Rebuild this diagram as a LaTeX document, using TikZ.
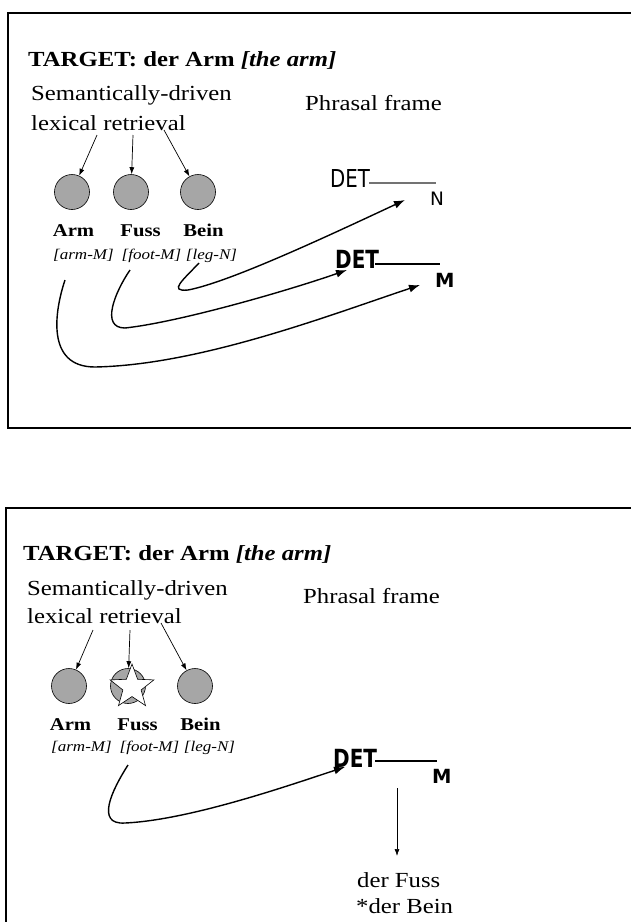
\documentclass[tikz,border=0pt]{standalone}
\usepackage{fontspec}
\setmainfont{Liberation Serif}[FakeStretch=1.15]
\newfontfamily\handfont{DejaVu Sans}[FakeStretch=0.8]
\newfontfamily\handwide{DejaVu Sans}
\usetikzlibrary{shapes.geometric,arrows.meta}

\tikzset{
  lbl/.style={inner sep=0, anchor=base west, font=\fontsize{21.5}{25}\selectfont},
  ttl/.style={lbl, font=\fontsize{21.5}{25}\selectfont\bfseries},
  word/.style={inner sep=0, anchor=base, font=\fontsize{18}{20}\selectfont\bfseries},
  gloss/.style={inner sep=0, anchor=base, font=\fontsize{14.8}{18}\selectfont\itshape},
  dot/.style={circle, draw=black, line width=0.6pt, fill=black!35, minimum size=35, inner sep=0},
  retr/.style={color=black, line width=0.7pt, >={Latex[length=7pt,width=5pt]}},
  link/.style={color=black, line width=1.4pt, >={Latex[length=11pt,width=8pt]}},
  slot/.style={inner sep=0, anchor=base west, font=\handfont\fontsize{24.7}{28}\selectfont},
  slotb/.style={slot, font=\handfont\bfseries\fontsize{25}{28}\selectfont},
  tag/.style={inner sep=0, anchor=base west, font=\handwide\fontsize{18.5}{20}\selectfont},
  tagb/.style={tag, font=\handwide\bfseries\fontsize{19.5}{22}\selectfont},
}

\begin{document}
\begin{tikzpicture}[x=1pt, y=-1pt]
\useasboundingbox (0,0) rectangle (630,922);
\draw[line width=2.4pt] (8,13) rectangle (660,428);
\node[ttl] (titleA) at (28,66) {TARGET: der Arm \textit{[the arm]}};
\node[lbl] (semA) at (31,100) {Semantically-driven};
\node[lbl] (lexA) at (31,130) {lexical retrieval};
\node[lbl] (frameA) at (305,110) {Phrasal frame};
\node[dot] (armA) at (72,192) {};
\node[dot] (fussA) at (131,192) {};
\node[dot] (beinA) at (198,192) {};
\coordinate (r1A) at (97,135);
\coordinate (r2A) at (133,135);
\coordinate (r3A) at (164,130);
\draw[retr, ->] (r1A) -- (armA);
\draw[retr, ->] (r2A) -- (fussA);
\draw[retr, ->] (r3A) -- (beinA);
\node[word] (warmA) at (73.5,236) {Arm};
\node[word] (wfussA) at (140.5,236) {Fuss};
\node[word] (wbeinA) at (203.5,236) {Bein};
\node[gloss] (garmA) at (83.5,259) {[arm-M]};
\node[gloss] (gfussA) at (151.5,259) {[foot-M]};
\node[gloss] (gbeinA) at (211.5,259) {[leg-N]};
\node[slot] (detn) at (330,187) {DET};
\draw[color=black!55, line width=1.2pt] (369,183) -- (436,183);
\node[tag] (slotn) at (430,205) {N};
\node[slotb] (detm) at (335,268) {DET};
\draw[color=black, line width=2.2pt] (375,264) -- (440,264);
\node[tagb] (slotm) at (435,287) {M};
\coordinate (c1A) at (199,263);
\coordinate (c2A) at (130,270);
\coordinate (c3A) at (65,280);
\coordinate (e1A) at (405,200);
\coordinate (e2A) at (347,270);
\coordinate (e3A) at (420,285);
\draw[link, ->] (c1A) .. controls (183,280) and (168,292) .. (188,290)
  .. controls (230,282) and (330,235) .. (e1A);
\draw[link, ->] (c2A) .. controls (115,292) and (100,328) .. (125,328)
  .. controls (180,322) and (290,290) .. (e2A);
\draw[link, ->] (c3A) .. controls (55,310) and (45,367) .. (95,367)
  .. controls (200,365) and (330,315) .. (e3A);

\draw[line width=2.4pt] (6,508) rectangle (660,950);
\node[ttl] (titleB) at (23,560) {TARGET: der Arm \textit{[the arm]}};
\node[lbl] (semB) at (27,595) {Semantically-driven};
\node[lbl] (lexB) at (27,623) {lexical retrieval};
\node[lbl] (frameB) at (303,603) {Phrasal frame};
\node[dot] (armB) at (69,686) {};
\node[dot] (fussB) at (128,686) {};
\node[dot] (beinB) at (195,686) {};
\node[star, star points=5, star point ratio=2.4, draw=black, line width=0.6pt, fill=white, minimum size=46, inner sep=0] (starB) at (132,687) {};
\coordinate (r1B) at (93,630);
\coordinate (r2B) at (130,630);
\coordinate (r3B) at (161,623);
\draw[retr, ->] (r1B) -- (armB);
\draw[retr, ->] (r2B) -- (fussB);
\draw[retr, ->] (r3B) -- (beinB);
\node[word] (warmB) at (70.5,730) {Arm};
\node[word] (wfussB) at (137.5,730) {Fuss};
\node[word] (wbeinB) at (200.5,730) {Bein};
\node[gloss] (garmB) at (81.5,751) {[arm-M]};
\node[gloss] (gfussB) at (149.5,751) {[foot-M]};
\node[gloss] (gbeinB) at (209.5,751) {[leg-N]};
\node[slotb] (detf) at (333,767) {DET};
\draw[color=black, line width=2.2pt] (375,761) -- (437,761);
\node[tagb] (slotf) at (432,783) {M};
\coordinate (c2B) at (128,765);
\coordinate (e2B) at (345,767);
\draw[link, ->] (c2B) .. controls (112,790) and (95,825) .. (125,823)
  .. controls (190,820) and (290,785) .. (e2B);
\coordinate (pickB) at (397,788);
\coordinate (pickendB) at (397,856);
\draw[retr, ->] (pickB) -- (pickendB);
\node[lbl] (goodB) at (357,887) {der Fuss};
\node[lbl] (badB) at (356,913) {*der Bein};
\end{tikzpicture}
\end{document}
